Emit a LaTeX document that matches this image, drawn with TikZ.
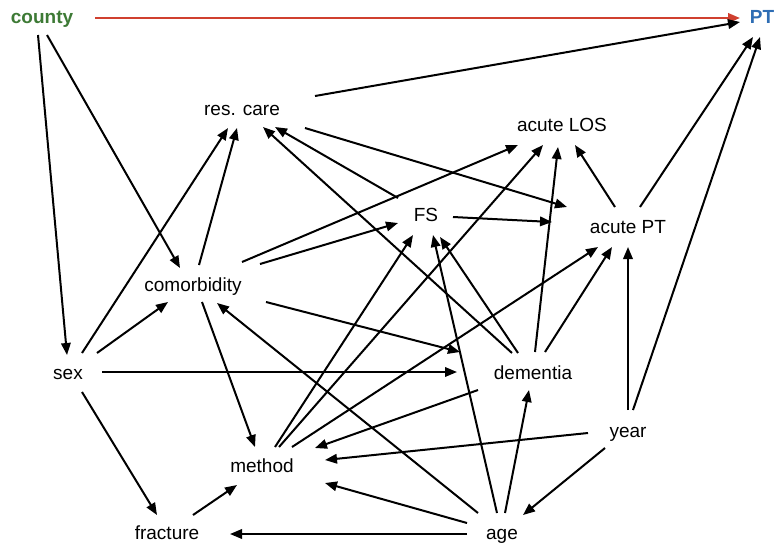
\documentclass[tikz,border=0pt]{standalone}
\usepackage{fontspec}
\setmainfont{Liberation Sans}
\usetikzlibrary{arrows.meta}
\definecolor{cgreen}{HTML}{3D7A35}
\definecolor{cblue}{HTML}{2E6DB4}
\definecolor{cred}{HTML}{D0402F}
\begin{document}
\begin{tikzpicture}[x=1pt,y=-1pt,
  lbl/.style={inner sep=0pt,text height=14pt,text depth=4pt,font=\fontsize{19}{23}\selectfont},
  e/.style={line width=2pt,-{Triangle[length=12pt,width=9.5pt]}}]
\useasboundingbox (0,0) rectangle (776,547);
\node[lbl,text=cgreen,font=\fontsize{19}{23}\selectfont\bfseries] (county) at (42,18) {county};
\node[lbl,text=cblue,font=\fontsize{19}{23}\selectfont\bfseries] (PT) at (762,18) {PT};
\node[lbl] (rc) at (242,110) {res. care};
\node[lbl] (los) at (562,126) {acute LOS};
\node[lbl] (fs) at (426,216) {FS};
\node[lbl] (apt) at (628,228) {acute PT};
\node[lbl] (com) at (193,286) {comorbidity};
\node[lbl] (sex) at (68,374) {sex};
\node[lbl] (dem) at (533,374) {dementia};
\node[lbl] (year) at (628,432) {year};
\node[lbl] (meth) at (262,467) {method};
\node[lbl] (frac) at (167,534) {fracture};
\node[lbl] (age) at (502,534) {age};

\draw[e,cred,line width=2.3pt] ([shift={(53,0)}]county.center) -- ([shift={(-22,0)}]PT.center);
\draw[e] ([shift={(-4,17)}]county.center) -- ([shift={(-1,-19)}]sex.center);
\draw[e] ([shift={(5,17)}]county.center) -- ([shift={(-13,-18)}]com.center);
\draw[e] ([shift={(73,-14)}]rc.center) -- ([shift={(-22,4)}]PT.center);
\draw[e] ([shift={(12,-21)}]apt.center) -- ([shift={(-9,19)}]PT.center);
\draw[e] ([shift={(5,-22)}]year.center) -- ([shift={(-2,19)}]PT.center);
\draw[e] ([shift={(0,-22)}]year.center) -- ([shift={(0,19)}]apt.center);
\draw[e] ([shift={(63,18)}]rc.center) -- ([shift={(-61,-21)}]apt.center);
\draw[e] ([shift={(-28,-18)}]fs.center) -- ([shift={(33,17)}]rc.center);
\draw[e] ([shift={(-21,-21)}]dem.center) -- ([shift={(21,17)}]rc.center);
\draw[e] ([shift={(6,-21)}]com.center) -- ([shift={(-5,18)}]rc.center);
\draw[e] ([shift={(14,-21)}]sex.center) -- ([shift={(-14,18)}]rc.center);
\draw[e] ([shift={(49,-24)}]com.center) -- ([shift={(-44,19)}]los.center);
\draw[e] ([shift={(67,-22)}]com.center) -- ([shift={(-28,7)}]fs.center);
\draw[e] ([shift={(73,16)}]com.center) -- ([shift={(-73,-22)}]dem.center);
\draw[e] ([shift={(9,16)}]com.center) -- ([shift={(-7,-20)}]meth.center);
\draw[e] ([shift={(29,-21)}]sex.center) -- ([shift={(-25,16)}]com.center);
\draw[e] ([shift={(34,-2)}]sex.center) -- ([shift={(-76,-2)}]dem.center);
\draw[e] ([shift={(14,18)}]sex.center) -- ([shift={(-10,-19)}]frac.center);
\draw[e] ([shift={(27,1)}]fs.center) -- ([shift={(-76,-6)}]apt.center);
\draw[e] ([shift={(-13,-21)}]apt.center) -- ([shift={(13,19)}]los.center);
\draw[e] ([shift={(2,-22)}]dem.center) -- ([shift={(-4,21)}]los.center);
\draw[e] ([shift={(12,-22)}]dem.center) -- ([shift={(-16,19)}]apt.center);
\draw[e] ([shift={(-15,-21)}]dem.center) -- ([shift={(14,21)}]fs.center);
\draw[e] ([shift={(13,-20)}]meth.center) -- ([shift={(-13,19)}]fs.center);
\draw[e] ([shift={(17,-20)}]meth.center) -- ([shift={(-19,19)}]los.center);
\draw[e] ([shift={(30,-20)}]meth.center) -- ([shift={(-30,19)}]apt.center);
\draw[e] ([shift={(-55,16)}]dem.center) -- ([shift={(53,-19)}]meth.center);
\draw[e] ([shift={(-40,1)}]year.center) -- ([shift={(63,-7)}]meth.center);
\draw[e] ([shift={(-35,-11)}]age.center) -- ([shift={(63,16)}]meth.center);
\draw[e] ([shift={(-35,0)}]age.center) -- ([shift={(63,0)}]frac.center);
\draw[e] ([shift={(26,-19)}]frac.center) -- ([shift={(-25,18)}]meth.center);
\draw[e] ([shift={(-23,16)}]year.center) -- ([shift={(21,-19)}]age.center);
\draw[e] ([shift={(3,-21)}]age.center) -- ([shift={(-4,16)}]dem.center);
\draw[e] ([shift={(-5,-21)}]age.center) -- ([shift={(7,19)}]fs.center);
\draw[e] ([shift={(-24,-21)}]age.center) -- ([shift={(24,17)}]com.center);
\end{tikzpicture}
\end{document}
